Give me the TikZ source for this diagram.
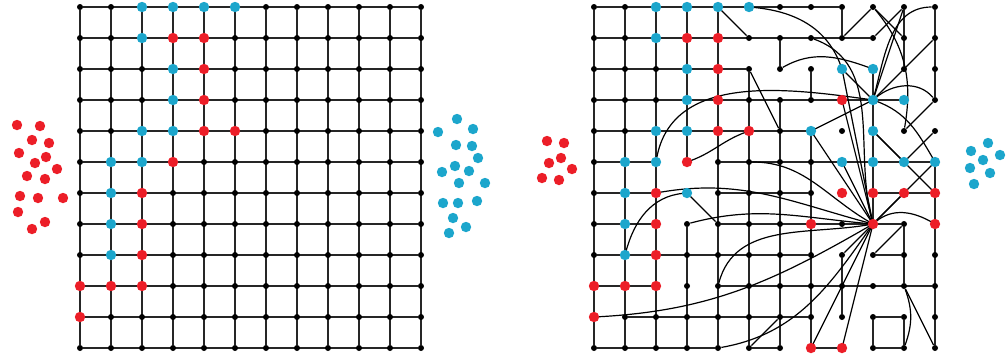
\documentclass[tikz,border=0pt]{standalone}
\usepackage{tikz}
\usetikzlibrary{backgrounds}
\definecolor{netred}{RGB}{236,30,40}
\definecolor{netblue}{RGB}{28,166,204}
\tikzset{
  site/.style={circle,fill=black,inner sep=0pt,minimum size=3pt},
  rsite/.style={circle,fill=netred,inner sep=0pt,minimum size=5.2pt},
  bsite/.style={circle,fill=netblue,inner sep=0pt,minimum size=5.2pt},
  link/.style={line width=0.95pt,black!85},
  longlink/.style={line width=0.6pt,black}
}
\begin{document}
\begin{tikzpicture}[x=0.5pt,y=-0.5pt]
    \useasboundingbox (0,0) rectangle (1008,361);
    \foreach \c in {0,...,11} \foreach \r in {0,...,11} {
        \node [site] (L\c-\r) at ({80+31*\c},{7+31*\r}) {};
        \node [site] (R\c-\r) at ({594+31*\c},{7+31*\r}) {};
    }
    \foreach \c/\r in {2/0,3/0,4/0,5/0,2/1,3/2,3/3,2/4,3/4,1/5,2/5,1/6,1/7,1/8}
        \node [bsite] (LB\c-\r) at (L\c-\r) {};
    \foreach \c/\r in {3/1,4/1,4/2,4/3,4/4,5/4,3/5,2/6,2/7,2/8,0/9,1/9,2/9,0/10}
        \node [rsite] (LR\c-\r) at (L\c-\r) {};
    \foreach \c/\r in {2/0,3/0,4/0,5/0,2/1,3/2,3/3,2/4,3/4,1/5,2/5,1/6,3/6,1/7,1/8,8/2,9/2,9/3,10/3,7/4,9/4,8/5,9/5,10/5,11/5}
        \node [bsite] (RB\c-\r) at (R\c-\r) {};
    \foreach \c/\r in {3/1,4/1,4/2,4/3,4/4,5/4,3/5,2/6,2/7,2/8,0/9,1/9,2/9,0/10,8/3,8/6,9/6,10/6,11/6,7/7,9/7,11/7,7/11,8/11}
        \node [rsite] (RR\c-\r) at (R\c-\r) {};
    \foreach \x/\y [count=\i] in {17/125,40/126,32/140,49/143,19/153,46/157,35/163,57/169,27/176,45/179,20/196,38/198,63/198,18/212,45/222,32/229}
        \node [rsite] (redA\i) at (\x,\y) {};
    \foreach \x/\y [count=\i] in {457/119,438/132,473/129,456/145,472/146,478/158,455/166,442/172,469/171,459/183,485/183,443/203,458/203,477/201,453/218,466/227,449/233}
        \node [bsite] (blueA\i) at (\x,\y) {};
    \foreach \x/\y [count=\i] in {547/141,564/143,561/158,549/163,572/169,542/178,559/180}
        \node [rsite] (redB\i) at (\x,\y) {};
    \foreach \x/\y [count=\i] in {988/143,971/151,1000/155,983/160,970/168,990/173,974/184}
        \node [bsite] (blueB\i) at (\x,\y) {};
    \begin{scope}[on background layer]
        \foreach \i in {0,...,11} {
            \draw [link] (L0-\i) -- (L11-\i);
            \draw [link] (L\i-0) -- (L\i-11);
        }
        \foreach \r/\a/\b in {0/0/8,1/0/9,2/0/5,3/0/10,4/0/7,5/0/2,5/4/11,6/0/2,6/4/7,6/9/11,7/0/2,7/4/10,8/0/7,8/9/10,9/0/2,9/4/11,10/1/7,10/9/10,11/0/4,11/5/6,11/7/8,11/9/10}
            \draw [link] (R\a-\r) -- (R\b-\r);
        \foreach \c/\a/\b in {0/0/11,1/0/11,2/0/11,3/0/5,3/7/11,4/0/11,5/2/11,6/1/2,6/3/11,7/2/3,7/4/11,8/0/1,8/8/10,9/2/7,9/10/11,10/0/2,10/7/9,10/10/11,11/0/3,11/5/11}
            \draw [link] (R\c-\a) -- (R\c-\b);
        \draw [longlink] (R4-0) -- (R5-1);
        \draw [longlink] (R5-0) to[out=-5,in=110] (R8-2);
        \draw [longlink] (R8-1) -- (R9-0);
        \draw [longlink] (R9-0) -- (R10-1);
        \draw [longlink] (R9-1) -- (R10-0);
        \draw [longlink] (R10-0) -- (R9-3);
        \draw [longlink] (R11-0) to[out=180,in=75] (R9-3);
        \draw [longlink] (R11-1) -- (R9-3);
        \draw [longlink] (R6-2) to[out=30,in=160] (R9-2);
        \draw [longlink] (R8-2) -- (R9-3);
        \draw [longlink] (R2-5) to[out=80,in=172] (R9-3);
        \draw [longlink] (R9-3) to[out=40,in=130] (R11-3);
        \draw [longlink] (R9-3) to[out=-20,in=120] (R11-5);
        \draw [longlink] (R7-4) -- (R9-3);
        \draw [longlink] (R9-0) to[out=-50,in=80] (R10-4);
        \draw [longlink] (R10-4) -- (R11-3);
        \draw [longlink] (R5-2) -- (R6-4);
        \draw [longlink] (R9-4) -- (R10-5);
        \draw [longlink] (R9-4) -- (R11-6);
        \draw [longlink] (R10-5) -- (R11-4);
        \draw [longlink] (R8-3) -- (R9-7);
        \draw [longlink] (R8-2) -- (R9-7);
        \draw [longlink] (R7-1) to[out=-20,in=105] (R9-7);
        \draw [longlink] (R8-5) -- (R9-7);
        \draw [longlink] (R7-4) -- (R9-7);
        \draw [longlink] (R9-7) -- (R10-6);
        \draw [longlink] (R9-7) -- (R11-5);
        \draw [longlink] (R9-7) to[out=40,in=150] (R11-7);
        \draw [longlink] (R2-6) to[out=10,in=165] (R9-7);
        \draw [longlink] (R5-5) to[out=0,in=150] (R9-7);
        \draw [longlink] (R3-7) to[out=15,in=175] (R9-7);
        \draw [longlink] (R0-10) to[out=3,in=-150] (R9-7);
        \draw [longlink] (R4-9) to[out=75,in=-170] (R9-7);
        \draw [longlink] (R4-11) to[out=10,in=-125] (R9-7);
        \draw [longlink] (R7-11) -- (R9-7);
        \draw [longlink] (R8-11) -- (R9-7);
        \draw [longlink] (R8-8) -- (R9-7);
        \draw [longlink] (R5-11) -- (R6-10);
        \draw [longlink] (R9-8) -- (R10-7);
        \draw [longlink] (R10-9) -- (R11-11);
        \draw [longlink] (R10-9) to[out=-70,in=70] (R10-11);
        \draw [longlink] (R1-8) to[out=75,in=185] (R3-6);
        \draw [longlink] (R3-6) -- (R4-7);
        \draw [longlink] (R3-5) to[out=20,in=-160] (R5-4);
    \end{scope}
\end{tikzpicture}
\end{document}
